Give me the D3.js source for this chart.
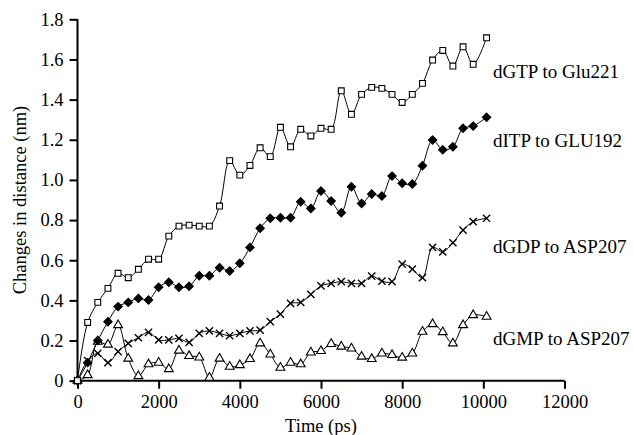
<!DOCTYPE html>
<html>
<head>
<meta charset="utf-8">
<script src="https://cdn.jsdelivr.net/npm/d3@7"></script>
<style>
  html, body { margin: 0; padding: 0; background: #fff; }
  svg { display: block; }
  text { font-family: "Liberation Serif", "Times New Roman", serif; fill: #000; }
</style>
</head>
<body>
<div id="chart"></div>
<script>
// ─── data ────────────────────────────────────────────────────────────────────

const times = [0, 250, 500, 750, 1000, 1250, 1500, 1750, 2000, 2250, 2500, 2750, 3000,
  3250, 3500, 3750, 4000, 4250, 4500, 4750, 5000, 5250, 5500, 5750, 6000, 6250, 6500,
  6750, 7000, 7250, 7500, 7750, 8000, 8250, 8500, 8750, 9000, 9250, 9500, 9750, 10080];

const dGTP = [0, 0.29, 0.39, 0.46, 0.535, 0.513, 0.555, 0.605, 0.605, 0.72, 0.77, 0.775,
  0.77, 0.77, 0.87, 1.096, 1.024, 1.072, 1.16, 1.116, 1.262, 1.165, 1.252, 1.219, 1.257,
  1.252, 1.444, 1.327, 1.426, 1.461, 1.456, 1.426, 1.386, 1.426, 1.481, 1.597, 1.645,
  1.567, 1.663, 1.576, 1.708];

const dITP = [0, 0.09, 0.2, 0.294, 0.369, 0.39, 0.41, 0.402, 0.465, 0.49, 0.465, 0.47,
  0.523, 0.523, 0.563, 0.546, 0.585, 0.664, 0.759, 0.809, 0.812, 0.812, 0.891, 0.858,
  0.945, 0.895, 0.837, 0.966, 0.883, 0.93, 0.92, 1.019, 0.983, 0.98, 1.071, 1.199, 1.15,
  1.165, 1.257, 1.268, 1.312];

const dGDP = [0, 0.1, 0.136, 0.09, 0.145, 0.186, 0.214, 0.241, 0.203, 0.203, 0.211, 0.191,
  0.236, 0.248, 0.236, 0.224, 0.236, 0.248, 0.252, 0.294, 0.332, 0.385, 0.39, 0.43, 0.472,
  0.485, 0.493, 0.485, 0.485, 0.521, 0.496, 0.493, 0.581, 0.556, 0.513, 0.664, 0.642,
  0.687, 0.75, 0.792, 0.809];

const dGMP = [0, 0.028, 0.194, 0.18, 0.277, 0.11, 0.023, 0.082, 0.09, 0.058, 0.15, 0.123,
  0.116, 0.015, 0.11, 0.07, 0.078, 0.108, 0.186, 0.131, 0.065, 0.09, 0.082, 0.141, 0.148,
  0.183, 0.17, 0.161, 0.12, 0.108, 0.136, 0.128, 0.115, 0.136, 0.244, 0.282, 0.242,
  0.186, 0.277, 0.327, 0.319];

const seriesNames = ["dGTP to Glu221", "dITP to GLU192", "dGDP to ASP207", "dGMP to ASP207"];
const xTicks = [0, 2000, 4000, 6000, 8000, 10000, 12000];
const yTicks = [0, 0.2, 0.4, 0.6, 0.8, 1.0, 1.2, 1.4, 1.6, 1.8];

// ─── setup ───────────────────────────────────────────────────────────────────

const width = 634, height = 435;
const FONT = "18.5px";

const svg = d3.select("#chart").append("svg")
  .attr("width", width)
  .attr("height", height);

const x = d3.scaleLinear().domain([0, 12000]).range([77.5, 564.5]);
const y = d3.scaleLinear().domain([0, 1.8]).range([380.7, 19.3]);

const line = d3.line()
  .x((d, i) => x(times[i]))
  .y(d => y(d))
  .curve(d3.curveCatmullRom.alpha(0.5));

// ─── axes ────────────────────────────────────────────────────────────────────

const xAxis = svg.append("g")
  .attr("transform", `translate(0,${y(0)})`)
  .call(d3.axisBottom(x).tickValues(xTicks).tickSize(8).tickPadding(6)
    .tickFormat(d3.format("d")));

const yAxis = svg.append("g")
  .attr("transform", `translate(${x(0)},0)`)
  .call(d3.axisLeft(y).tickValues(yTicks).tickSize(8).tickPadding(6)
    .tickFormat(d => d === 0 ? "0" : d3.format(".1f")(d)));

[xAxis, yAxis].forEach(a => {
  a.select(".domain").attr("stroke", "#000").attr("stroke-width", 2);
  a.selectAll(".tick line").attr("stroke", "#000").attr("stroke-width", 2);
  a.selectAll(".tick text").style("font-size", FONT)
    .style("font-family", '"Liberation Serif", serif').attr("fill", "#000");
});
// trim the outer tick stubs d3 adds to the domain path
xAxis.select(".domain").attr("d", `M${x(0)},0H${x(12000)}`);
yAxis.select(".domain").attr("d", `M0,${y(0)}V${y(1.8)}`);

svg.append("text")
  .attr("x", (x(0) + x(12000)) / 2)
  .attr("y", 432)
  .attr("text-anchor", "middle")
  .style("font-size", FONT)
  .text("Time (ps)");

svg.append("text")
  .attr("transform", `translate(26,${(y(0) + y(1.8)) / 2}) rotate(-90)`)
  .attr("text-anchor", "middle")
  .style("font-size", FONT)
  .text("Changes in distance (nm)");

// ─── series ──────────────────────────────────────────────────────────────────

const crossPath = "M-3.6,-3.6L3.6,3.6M-3.6,3.6L3.6,-3.6";
const diamondPath = "M0,-4.2L4.2,0L0,4.2L-4.2,0Z";

const series = [
  { name: seriesNames[0], values: dGTP, symbol: d3.symbol(d3.symbolSquare, 34)(), fill: "#fff" },
  { name: seriesNames[1], values: dITP, symbol: diamondPath, fill: "#000" },
  { name: seriesNames[2], values: dGDP, symbol: crossPath, fill: "none" },
  { name: seriesNames[3], values: dGMP, symbol: d3.symbol(d3.symbolTriangle, 34)(), fill: "#fff" }
];

const plot = svg.append("g");

// draw lower series first so upper markers sit on top
series.slice().reverse().forEach(s => {
  plot.append("path")
    .datum(s.values)
    .attr("fill", "none")
    .attr("stroke", "#000")
    .attr("stroke-width", 1)
    .attr("d", line);

  plot.append("g").selectAll("path")
    .data(s.values)
    .join("path")
    .attr("transform", (d, i) => `translate(${x(times[i])},${y(d)})`)
    .attr("d", s.symbol)
    .attr("fill", s.fill)
    .attr("stroke", "#000")
    .attr("stroke-width", s.fill === "none" ? 1.4 : 1.1);
});

// series labels, to the right of the line ends
const labelLevels = [1.506, 1.163, 0.636, 0.177];
svg.append("g").selectAll("text")
  .data(series)
  .join("text")
  .attr("x", 493)
  .attr("y", (d, i) => y(labelLevels[i]))
  .style("font-size", "19px")
  .text(d => d.name);
</script>
</body>
</html>
